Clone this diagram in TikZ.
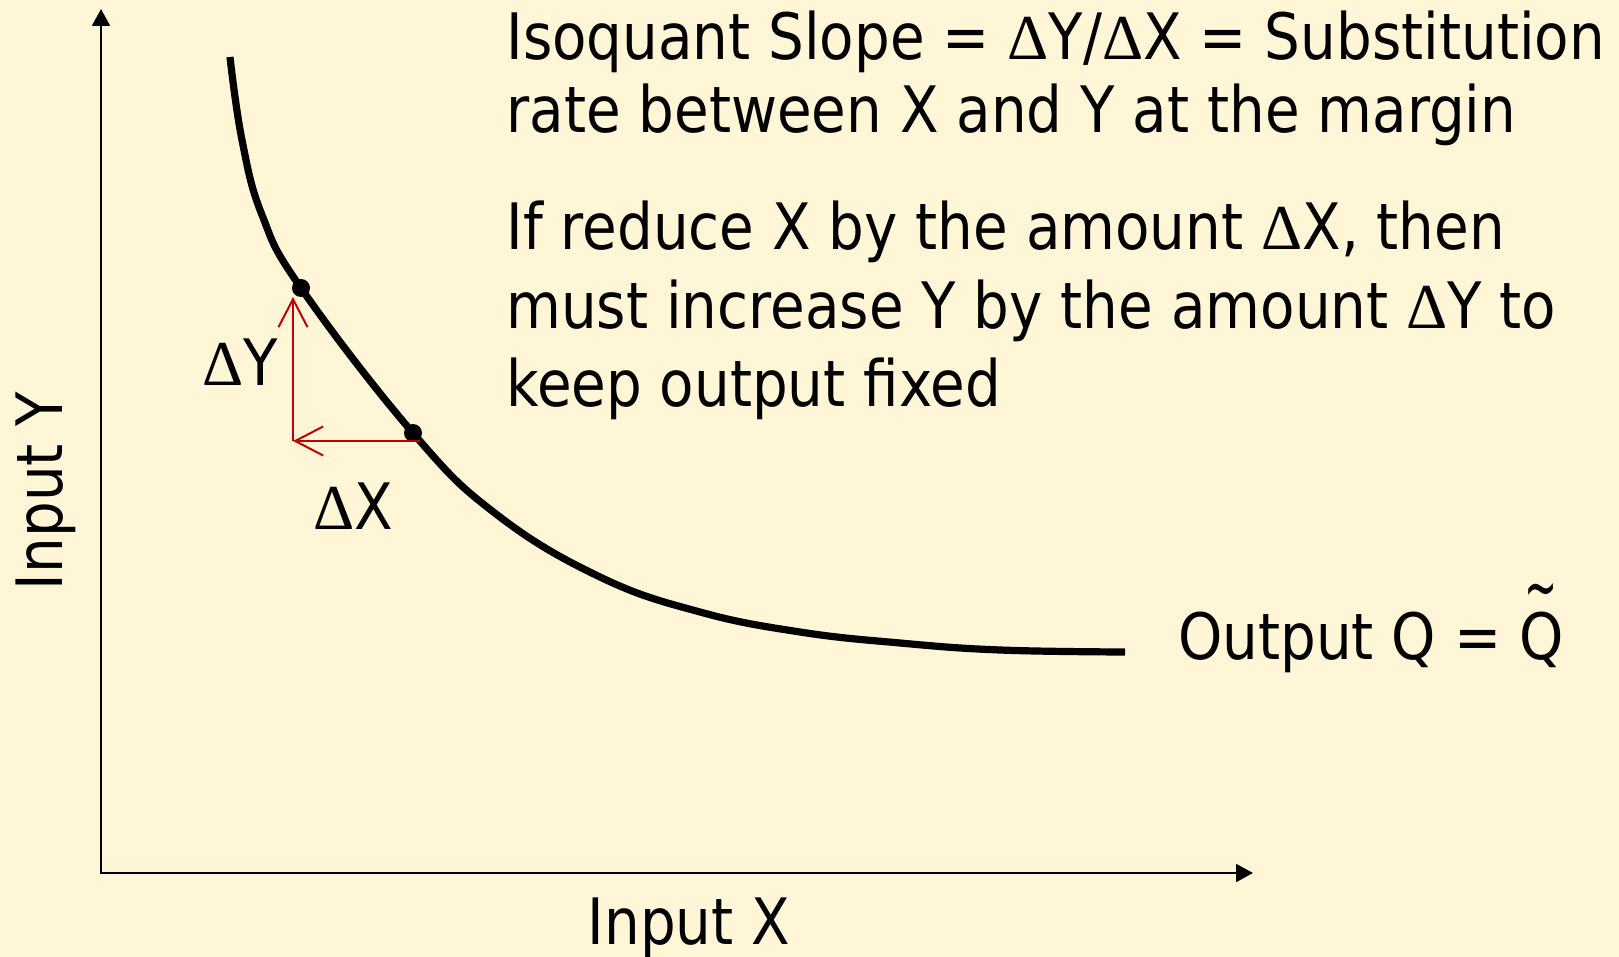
\documentclass[tikz,border=0pt]{standalone}
\usepackage{fontspec}
\setmainfont{DejaVu Sans}[FakeStretch=0.88]
\newfontfamily\grk{Liberation Serif}
\usepackage{graphicx}
\usepackage{calc}
\usepackage{tikz}
\usetikzlibrary{arrows.meta}
\definecolor{bgcream}{RGB}{255,245,215}
\definecolor{deltared}{RGB}{192,0,0}
\newcommand{\dlt}{{\grk Δ}}
\newcommand{\qfix}{\makebox[0pt][l]{\makebox[\widthof{Q}][c]{\raisebox{0.74em}{\scalebox{0.7}[1.1]{\char"7E}}}}Q}

\begin{document}
\begin{tikzpicture}[x=0.5pt,y=-0.5pt,
  lbl/.style={font=\fontsize{32}{38}\selectfont,inner sep=0pt},
  axis/.style={line width=1.1pt,{Triangle[length=8.5pt,width=9pt]}-{Triangle[length=8.5pt,width=9pt]}},
  delta/.style={deltared,line width=1pt,-{Straight Barb[length=14pt,width=14.5pt]}},
  dot/.style={circle,fill,inner sep=0pt,minimum size=9pt}]
 \fill[bgcream] (0,0) rectangle (1619,957);
 \useasboundingbox (0,0) rectangle (1619,957);
 % axes
 \coordinate (o) at (101,873);
 \coordinate (ytop) at (101,9);
 \coordinate (xend) at (1253,873);
 \draw[axis] (ytop) -- (o) -- (xend);
 \node[lbl,anchor=base,rotate=90] (iny) at (62,491) {Input Y};
 \node[lbl,anchor=base] (inx) at (689,944) {Input X};
 % isoquant
 \draw[line width=3.6pt] plot[smooth,tension=0.7] coordinates {(230,57) (242,140) (262,215) (301,288) (413,433) (496,514) (600,577) (700,612) (800,632) (900,643) (1000,650) (1125,652)};
 \node[dot] (p1) at (301,288) {};
 \node[dot] (p2) at (413,433) {};
 \node[lbl,anchor=base west] (qlab) at (1178,659) {Output Q = \qfix};
 % substitution triangle
 \coordinate (dxs) at (420,441);
 \coordinate (cnr) at (293,441);
 \coordinate (dye) at (293,297);
 \draw[delta] (dxs) -- (cnr);
 \draw[delta] (cnr) -- (dye);
 \node[lbl,anchor=base west] (dy) at (202,386) {\dlt Y};
 \node[lbl,anchor=base west] (dx) at (313,530) {\dlt X};
 % text
 \node[lbl,font=\fontsize{32}{36.5}\selectfont,anchor=base west,align=left] (slope) at (506,133) {Isoquant Slope = \dlt Y/\dlt X = Substitution\\rate between X and Y at the margin};
 \node[lbl,font=\fontsize{32}{39.25}\selectfont,anchor=base west,align=left] (reduce) at (506,407) {If reduce X by the amount \dlt X, then\\must increase Y by the amount \dlt Y to\\keep output fixed};
\end{tikzpicture}
\end{document}
